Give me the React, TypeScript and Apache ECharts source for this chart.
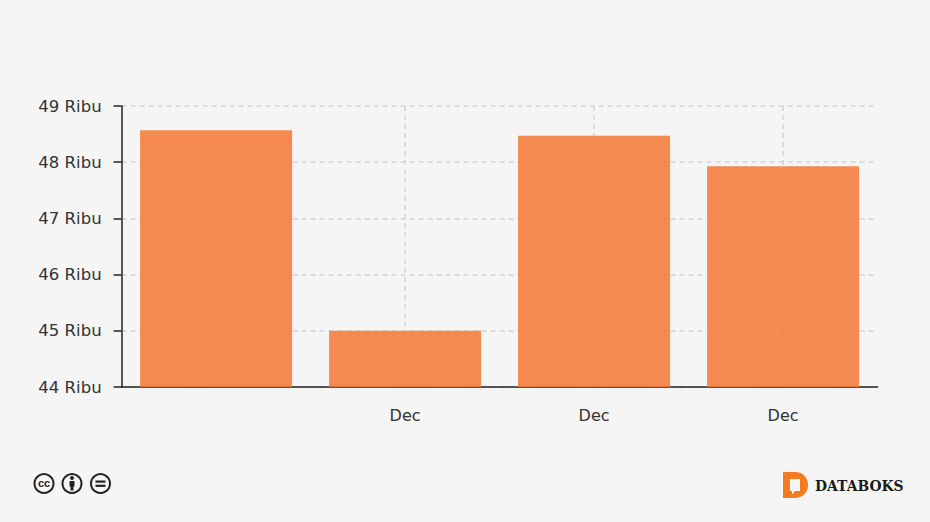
import React, { useEffect, useRef } from "react";
import * as echarts from "echarts";

const categories = ["", "Dec", "Dec", "Dec"];
const values = [48.57, 45.0, 48.47, 47.93];
const yMin = 44;
const yMax = 49;
const yStep = 1;
const unitLabel = "Ribu";
const brandName = "DATABOKS";

const TEXT = "#333333";
const AXIS = "#222222";
const GRID = "#d4d4d4";
const FONT = "'DejaVu Sans', sans-serif";

echarts.graphic.registerShape(
  "databoksD",
  echarts.graphic.extendPath(
    "M0 0H12C20 0 25 6 25 13C25 20 20 26 12 26H0Z",
    {}
  )
);

export default function App() {
  const ref = useRef<HTMLDivElement>(null);
  useEffect(() => {
    document.body.style.margin = "0";
    const chart = echarts.init(ref.current!, null, { renderer: "svg" });
    const hasTick = (i: number) => categories[i] !== "";
    chart.setOption({
      animation: false,
      backgroundColor: "#f5f5f5",
      grid: { left: 121.6, right: 52.4, top: 106, bottom: 135 },
      xAxis: {
        type: "category",
        data: categories,
        axisLine: { lineStyle: { color: AXIS, width: 1.5 } },
        axisTick: {
          alignWithLabel: true,
          length: 7,
          interval: (i: number) => hasTick(i),
          lineStyle: { color: AXIS, width: 1.5 },
        },
        axisLabel: { color: TEXT, fontFamily: FONT, fontSize: 16, margin: 20, interval: 0 },
        splitLine: {
          show: true,
          alignWithLabel: true,
          interval: (i: number) => hasTick(i),
          lineStyle: { color: GRID, type: [5, 4], width: 1.5 },
        },
      },
      yAxis: {
        type: "value",
        min: yMin,
        max: yMax,
        interval: yStep,
        axisLine: { show: true, lineStyle: { color: AXIS, width: 1.5 } },
        axisTick: { show: true, length: 8, lineStyle: { color: AXIS, width: 1.5 } },
        axisLabel: {
          color: TEXT,
          fontFamily: FONT,
          fontSize: 16.5,
          margin: 20,
          formatter: (v: number) => `${v} ${unitLabel}`,
        },
        splitLine: { show: true, lineStyle: { color: GRID, type: [5, 4], width: 1.5 } },
      },
      series: [
        {
          type: "bar",
          data: values,
          barWidth: 152,
          itemStyle: { color: "#F47A36", opacity: 0.87 },
        },
      ],
      graphic: [
        ...[44, 72, 100.5].map((cx) => ({
          type: "circle",
          shape: { cx, cy: 483.5, r: 9.5 },
          style: { fill: "none", stroke: "#222", lineWidth: 2 },
        })),
        {
          type: "text",
          x: 44,
          y: 483,
          style: {
            text: "cc",
            fill: "#222",
            font: "bold 11px 'Liberation Sans', sans-serif",
            align: "center",
            verticalAlign: "middle",
          },
        },
        { type: "circle", shape: { cx: 72, cy: 478, r: 2 }, style: { fill: "#222" } },
        { type: "rect", shape: { x: 69.5, y: 481, width: 5, height: 5.5 }, style: { fill: "#222" } },
        { type: "rect", shape: { x: 70.5, y: 486, width: 3, height: 4.5 }, style: { fill: "#222" } },
        { type: "rect", shape: { x: 95.5, y: 480.5, width: 10, height: 2.2 }, style: { fill: "#222" } },
        { type: "rect", shape: { x: 95.5, y: 484.7, width: 10, height: 2.2 }, style: { fill: "#222" } },
        { type: "databoksD", x: 783, y: 472, style: { fill: "#F47B20" } },
        {
          type: "polygon",
          shape: {
            points: [
              [790, 479],
              [800, 479],
              [800, 491],
              [795, 491],
              [792, 494.5],
              [792, 491],
              [790, 491],
            ],
          },
          style: { fill: "#f5f5f5" },
        },
        {
          type: "text",
          x: 815,
          y: 485.5,
          style: {
            text: brandName,
            fill: "#1a1a1a",
            font: "bold 13.9px 'DejaVu Serif', serif",
            verticalAlign: "middle",
          },
        },
      ],
    });
    return () => chart.dispose();
  }, []);
  return <div ref={ref} style={{ width: 930, height: 522 }} />;
}
